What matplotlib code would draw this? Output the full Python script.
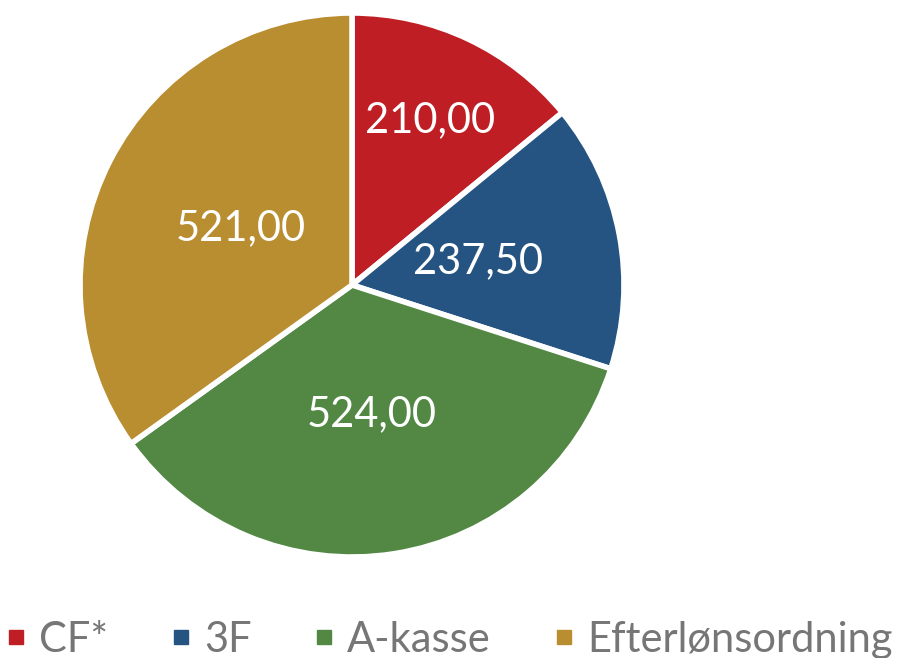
import matplotlib.pyplot as plt
import numpy as np
from matplotlib.lines import Line2D

labels = ["CF*", "3F", "A-kasse", "Efterlønsordning"]
values = [210.00, 237.50, 524.00, 521.00]
value_text = ["210,00", "237,50", "524,00", "521,00"]
colors = ["#BE1E24", "#265482", "#528844", "#B98E30"]
label_dist = [0.67, 0.47, 0.48, 0.46]

plt.rcParams['font.family'] = ['Lato', 'DejaVu Sans']

fig = plt.figure(figsize=(8.97, 6.58), dpi=100)
W, H = 897, 658
cx, cy, r = 352, 285, 272
ax = fig.add_axes([(cx - r) / W, (H - cy - r) / H, 2 * r / W, 2 * r / H])

wedges, _ = ax.pie(values, colors=colors, startangle=90, counterclock=False,
                   wedgeprops=dict(edgecolor="white", linewidth=4))
ax.set_xlim(-1, 1)
ax.set_ylim(-1, 1)
ax.set_aspect("equal")

# labels at the wedge mid angles
for w, txt, d in zip(wedges, value_text, label_dist):
    ang = np.deg2rad((w.theta1 + w.theta2) / 2)
    ax.text(d * np.cos(ang), d * np.sin(ang), txt, ha="center", va="center",
            color="white", fontsize=30)

handles = [Line2D([], [], marker="s", linestyle="", markersize=10,
                  markerfacecolor=c, markeredgecolor=c) for c in colors]
fig.legend(handles, labels, loc="center", bbox_to_anchor=(449 / W, 0.028),
           ncol=4, frameon=False, fontsize=30, labelcolor="#767676",
           handlelength=0.5, handletextpad=0.3, columnspacing=1.5)

fig.savefig("out.png", dpi=100)
